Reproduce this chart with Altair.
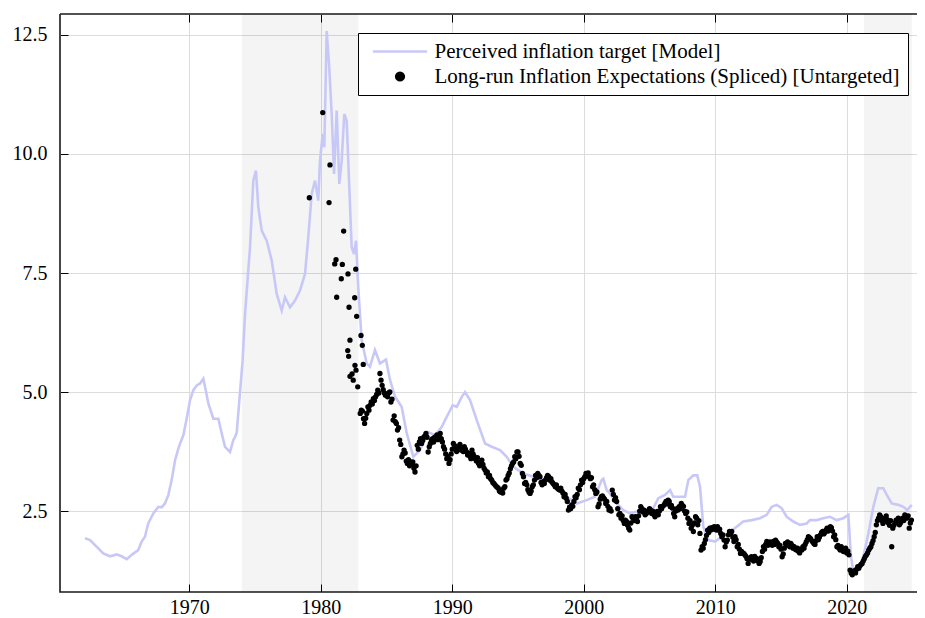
import altair as alt
import pandas as pd

# ---------------- data ----------------
line_years = [1962.07, 1962.45, 1962.96, 1963.46, 1963.97, 1964.48, 1964.86, 1965.24, 1965.62, 1966.12,
              1966.38, 1966.63, 1966.88, 1967.27, 1967.65, 1967.90, 1968.15, 1968.41, 1968.66, 1968.92,
              1969.17, 1969.30, 1969.55, 1969.80, 1970.06, 1970.31, 1970.57, 1970.82, 1971.07, 1971.20,
              1971.45, 1971.83, 1972.21, 1972.47, 1972.72, 1973.10, 1973.35, 1973.48, 1973.61, 1973.86,
              1974.06, 1974.24, 1974.62, 1974.87, 1975.07, 1975.25, 1975.51, 1975.89, 1976.27, 1976.65,
              1977.03, 1977.28, 1977.66, 1978.04, 1978.42, 1978.80, 1979.05, 1979.31, 1979.56, 1979.81,
              1979.94, 1980.15, 1980.27, 1980.45, 1980.63, 1980.83, 1981.01, 1981.21, 1981.41, 1981.59,
              1981.79, 1981.97, 1982.17, 1982.35, 1982.53, 1982.68, 1982.85, 1983.11, 1983.49, 1983.74,
              1984.12, 1984.50, 1984.96, 1985.27, 1985.65, 1986.15, 1986.54, 1987.04, 1987.55, 1988.18,
              1988.69, 1989.20, 1989.58, 1990.03, 1990.34, 1990.72, 1990.97, 1991.35, 1991.86, 1992.49,
              1993.00, 1993.63, 1994.14, 1994.64, 1995.40, 1996.16, 1997.18, 1997.94, 1998.70, 1999.46,
              2000.22, 2000.85, 2001.36, 2001.49, 2001.74, 2002.00, 2002.50, 2003.01, 2003.52, 2004.03,
              2004.66, 2005.29, 2005.67, 2006.18, 2006.56, 2006.81, 2007.32, 2007.70, 2007.95, 2008.33,
              2008.63, 2008.84, 2009.09, 2009.47, 2009.98, 2010.49, 2010.99, 2011.63, 2012.13, 2012.77,
              2013.40, 2013.91, 2014.29, 2014.67, 2015.05, 2015.43, 2015.93, 2016.44, 2016.95, 2017.20,
              2017.71, 2018.21, 2018.73, 2019.23, 2019.74, 2020.12, 2020.30, 2020.50, 2020.88, 2021.26,
              2021.64, 2022.02, 2022.39, 2022.78, 2023.04, 2023.42, 2023.92, 2024.30, 2024.60, 2024.94]
line_values = [1.93, 1.89, 1.75, 1.61, 1.55, 1.59, 1.55, 1.49, 1.58, 1.68,
               1.86, 1.96, 2.24, 2.45, 2.59, 2.58, 2.66, 2.84, 3.15, 3.57,
               3.81, 3.92, 4.09, 4.44, 4.83, 5.04, 5.14, 5.18, 5.28, 5.11,
               4.76, 4.44, 4.44, 4.13, 3.85, 3.74, 3.99, 4.05, 4.15, 5.00,
               5.67, 6.64, 8.04, 9.44, 9.65, 8.88, 8.39, 8.18, 7.76, 7.06,
               6.71, 6.99, 6.78, 6.92, 7.13, 7.48, 8.25, 9.16, 9.44, 9.02,
               9.86, 10.42, 10.14, 12.58, 11.89, 10.84, 9.58, 10.91, 9.37, 9.86,
               10.84, 10.70, 9.30, 8.04, 7.90, 8.18, 7.20, 6.09, 5.60, 5.53,
               5.88, 5.60, 5.68, 5.25, 4.90, 4.69, 4.13, 3.64, 3.78, 4.16,
               4.09, 4.27, 4.48, 4.72, 4.69, 4.90, 5.00, 4.83, 4.41, 3.92,
               3.85, 3.78, 3.64, 3.43, 3.29, 3.22, 3.15, 3.01, 2.80, 2.66,
               2.73, 2.80, 3.15, 3.18, 2.94, 2.87, 2.66, 2.52, 2.45, 2.49,
               2.52, 2.56, 2.77, 2.84, 2.94, 2.80, 2.80, 2.80, 3.15, 3.25,
               3.25, 3.01, 2.17, 1.89, 1.86, 1.96, 2.03, 2.17, 2.28, 2.31,
               2.35, 2.42, 2.59, 2.63, 2.56, 2.38, 2.28, 2.21, 2.24, 2.31,
               2.31, 2.35, 2.38, 2.31, 2.35, 2.42, 1.61, 1.19, 1.26, 1.54,
               2.03, 2.59, 2.98, 2.98, 2.84, 2.66, 2.63, 2.59, 2.52, 2.63]

# early, irregular survey observations
early_years = [1979.13, 1980.15, 1980.70, 1980.63, 1981.06, 1981.16, 1981.21, 1981.56, 1981.64, 1981.74,
               1982.07, 1982.15, 1982.05, 1982.12, 1982.22, 1982.22, 1982.38, 1982.47, 1982.58, 1982.60,
               1982.66, 1982.68, 1982.73, 1982.81, 1983.06, 1983.16, 1983.23]
early_values = [9.08, 10.87, 9.77, 8.98, 7.69, 7.78, 6.99, 7.38, 7.68, 8.38,
                7.48, 6.78, 5.87, 5.75, 6.09, 5.33, 5.38, 5.25, 6.98, 5.56,
                7.58, 5.46, 6.59, 5.11, 6.19, 5.98, 5.58]

# monthly observations starting January 1983
exp_start_year = 1983
exp_1983_1995 = [
    4.55, 4.62, 4.60, 4.44, 4.34, 4.45, 4.55, 4.69, 4.62, 4.72, 4.79, 4.75,
    4.86, 4.82, 4.90, 4.95, 5.04, 4.98, 5.39, 5.25, 5.14, 5.05, 4.98, 4.93,
    4.95, 4.90, 4.98, 5.00, 4.79, 4.85, 4.41, 4.50, 4.38, 4.34, 4.20, 4.25,
    3.99, 3.90, 3.64, 3.70, 3.78, 3.72, 3.55, 3.50, 3.58, 3.45, 3.53, 3.48,
    3.53, 3.40, 3.32, 3.45, 3.88, 3.80, 3.95, 4.02, 3.92, 3.98, 4.05, 4.08,
    4.13, 4.05, 3.74, 3.85, 3.92, 3.99, 4.02, 3.95, 4.05, 4.02, 4.10, 4.00,
    4.05, 4.13, 4.02, 3.95, 3.85, 3.80, 3.70, 3.60, 3.65, 3.50, 3.58, 3.70,
    3.80, 3.92, 3.88, 3.80, 3.75, 3.85, 3.82, 3.90, 3.78, 3.81, 3.75, 3.85,
    3.80, 3.74, 3.68, 3.71, 3.65, 3.60, 3.78, 3.70, 3.65, 3.60, 3.55, 3.62,
    3.50, 3.45, 3.52, 3.57, 3.48, 3.40, 3.36, 3.30, 3.32, 3.22, 3.25, 3.18,
    3.15, 3.10, 3.08, 3.05, 3.02, 3.00, 2.98, 2.92, 2.90, 2.94, 2.88, 2.98,
    3.01, 3.15, 3.18, 3.25, 3.30, 3.39, 3.45, 3.50, 3.53, 3.64, 3.60, 3.74,
    3.74, 3.65, 3.50, 3.46, 3.29, 3.22, 3.08, 3.10, 3.05, 2.95, 2.90, 2.87]
exp_1996_2006 = [
    2.92,
    3.01, 3.05, 3.15, 3.25, 3.20, 3.29, 3.25, 3.22, 3.10, 3.05, 3.12, 3.08,
    3.15, 3.20, 3.25, 3.22, 3.15, 3.18, 3.11, 3.08, 3.05, 3.01, 3.05, 2.98,
    2.96, 2.94, 2.98, 2.92, 2.88, 2.80, 2.85, 2.77, 2.70, 2.52, 2.58, 2.55,
    2.63, 2.60, 2.70, 2.80, 2.78, 2.85, 2.98, 2.95, 3.05, 3.15, 3.10, 3.18,
    3.22, 3.29, 3.25, 3.30, 3.22, 3.18, 3.20, 3.01, 3.05, 2.95, 2.87, 2.90,
    2.59, 2.65, 2.75, 2.80, 2.82, 2.78, 2.75, 2.66, 2.70, 2.60, 2.52, 2.55,
    2.50, 2.94, 2.85, 2.73, 2.78, 2.70, 2.55, 2.42, 2.45, 2.35, 2.40, 2.30,
    2.24, 2.31, 2.28, 2.20, 2.14, 2.10, 2.25, 2.38, 2.35, 2.30, 2.38, 2.35,
    2.28, 2.40, 2.50, 2.59, 2.55, 2.48, 2.52, 2.42, 2.45, 2.50, 2.48, 2.55,
    2.52, 2.45, 2.50, 2.42, 2.38, 2.45, 2.49, 2.42, 2.50, 2.59, 2.55, 2.60,
    2.62, 2.66, 2.70, 2.65, 2.73, 2.70, 2.59, 2.62, 2.56, 2.45, 2.38, 2.50]
exp_2007_2016 = [
    2.55,
    2.52, 2.59, 2.55, 2.66, 2.62, 2.60, 2.50, 2.45, 2.48, 2.35, 2.24, 2.30,
    2.14, 2.20, 2.07, 2.25, 2.38, 2.35, 2.21, 2.30, 2.03, 1.68, 1.75, 1.72,
    1.82, 1.90, 1.99, 2.10, 2.05, 2.14, 2.10, 2.15, 2.12, 2.17, 2.14, 2.10,
    2.17, 2.10, 2.12, 2.03, 1.96, 2.00, 1.89, 1.75, 1.85, 1.89, 2.00, 2.07,
    2.03, 2.07, 1.95, 1.86, 1.96, 1.90, 1.75, 1.80, 1.70, 1.61, 1.65, 1.62,
    1.61, 1.58, 1.55, 1.50, 1.40, 1.48, 1.52, 1.54, 1.50, 1.45, 1.55, 1.50,
    1.50, 1.45, 1.40, 1.44, 1.52, 1.65, 1.75, 1.70, 1.80, 1.86, 1.78, 1.82,
    1.85, 1.82, 1.78, 1.86, 1.80, 1.89, 1.85, 1.82, 1.75, 1.78, 1.70, 1.54,
    1.60, 1.72, 1.82, 1.78, 1.85, 1.80, 1.75, 1.82, 1.78, 1.72, 1.75, 1.70,
    1.68, 1.72, 1.65, 1.62, 1.70, 1.68, 1.75, 1.72, 1.80, 1.85, 1.90, 1.96]
exp_2017_2024 = [
    1.94,
    1.92, 1.88, 1.85, 1.82, 1.80, 1.88, 1.96, 1.90, 1.95, 2.00, 2.05, 2.07,
    2.02, 2.05, 2.10, 2.14, 2.08, 2.12, 2.17, 2.15, 2.08, 1.96, 2.00, 1.90,
    1.75, 1.78, 1.72, 1.68, 1.75, 1.70, 1.65, 1.68, 1.72, 1.62, 1.66, 1.58,
    1.26, 1.20, 1.16, 1.22, 1.25, 1.20, 1.28, 1.33, 1.30, 1.35, 1.38, 1.40,
    1.45, 1.50, 1.55, 1.58, 1.62, 1.68, 1.72, 1.75, 1.82, 1.88, 1.96, 2.05,
    2.21, 2.30, 2.35, 2.42, 2.38, 2.30, 2.24, 2.28, 2.35, 2.40, 2.32, 2.25,
    2.20, 2.30, 1.75, 2.14, 2.20, 2.25, 2.31, 2.28, 2.35, 2.21, 2.25, 2.30,
    2.35, 2.30, 2.42, 2.38, 2.35, 2.40, 2.14, 2.25, 2.31]

shade_starts = [1974.0, 2021.31]
shade_ends = [1982.86, 2024.94]

x_ticks = [1970, 1980, 1990, 2000, 2010, 2020]
y_ticks = [2.5, 5.0, 7.5, 10.0, 12.5]

series_names = ["Perceived inflation target [Model]",
                "Long-run Inflation Expectations (Spliced) [Untargeted]"]
line_color = "#c8c8f8"
FONT = "Liberation Serif"

# ---------------- tables ----------------
monthly = exp_1983_1995 + exp_1996_2006 + exp_2007_2016 + exp_2017_2024
monthly_years = [exp_start_year + i / 12 for i in range(len(monthly))]

line_df = pd.DataFrame({"year": line_years, "value": line_values})
dots_df = pd.DataFrame({
    "year": early_years + monthly_years,
    "value": early_values + monthly,
})
dots_df["series"] = series_names[1]
shade_df = pd.DataFrame({"start": shade_starts, "end": shade_ends})

W, H = 857, 578
xscale = alt.Scale(domain=[1960.17, 2025.34], nice=False, zero=False)
yscale = alt.Scale(domain=[0.80, 12.94], nice=False, zero=False)

label_style = dict(labelFont=FONT, labelFontSize=20, labelColor="black",
                   tickColor="black", tickWidth=1, gridColor="#dcdcdc", gridWidth=1)

top_axis = alt.Axis(orient="top", values=x_ticks, labels=False, ticks=True, tickSize=8,
                    offset=-8, domain=False, grid=False, title=None, tickColor="black")
bottom_axis = alt.Axis(orient="bottom", values=x_ticks, format="d", grid=True, tickSize=8,
                       offset=-8, domain=False, labelPadding=5, title=None, **label_style)
left_axis = alt.Axis(orient="left", values=y_ticks, format=".1f", grid=True, tickSize=8,
                     offset=-8, domain=False, labelPadding=13, title=None, **label_style)

shade = alt.Chart(shade_df).mark_rect(color="black", opacity=0.045).encode(
    x=alt.X("start:Q", scale=xscale, axis=top_axis),
    x2="end:Q",
)

line = alt.Chart(line_df).mark_line(color=line_color, strokeWidth=2.6).encode(
    x=alt.X("year:Q", scale=xscale, axis=bottom_axis),
    y=alt.Y("value:Q", scale=yscale, axis=left_axis),
)

points = alt.Chart(dots_df).mark_point(size=8, opacity=1, strokeWidth=2.5, filled=False).encode(
    x=alt.X("year:Q", scale=xscale, axis=None),
    y=alt.Y("value:Q", scale=yscale, axis=None),
    fill=alt.Fill("series:N", scale=alt.Scale(domain=series_names, range=["transparent", "black"]),
                  legend=alt.Legend(title=None)),
    stroke=alt.Stroke("series:N", scale=alt.Scale(domain=series_names, range=[line_color, "black"]),
                      legend=alt.Legend(title=None)),
    shape=alt.Shape("series:N", scale=alt.Scale(domain=series_names, range=["M-7,0H7", "circle"]),
                    legend=alt.Legend(title=None)),
)

chart = alt.layer(shade, line, points).resolve_axis(
    x="independent", y="independent"
).properties(
    width=W, height=H,
    autosize=alt.AutoSizeParams(type="none"),
    padding={"left": 52, "top": 6, "right": 0, "bottom": 26},
).configure(
    font=FONT,
).configure_view(
    # frame on top, bottom and left; the right edge lies outside the reference crop
    stroke="#1a1a1a", strokeWidth=1.6, strokeDash=[W, H, W + H, 0],
).configure_axis(
    labelFont=FONT, labelFontSize=20, labelColor="black",
    tickColor="black", tickWidth=1, gridColor="#dcdcdc", gridWidth=1,
).configure_legend(
    orient="none", legendX=298, legendY=19, padding=8,
    strokeColor="black", fillColor="white",
    labelFont=FONT, labelFontSize=21, labelColor="black", labelLimit=1000,
    symbolSize=60, symbolStrokeWidth=2.5, symbolOffset=23.5, labelOffset=24, rowPadding=3,
)

chart.save("out.html", embed_options={"renderer": "svg", "actions": False})
